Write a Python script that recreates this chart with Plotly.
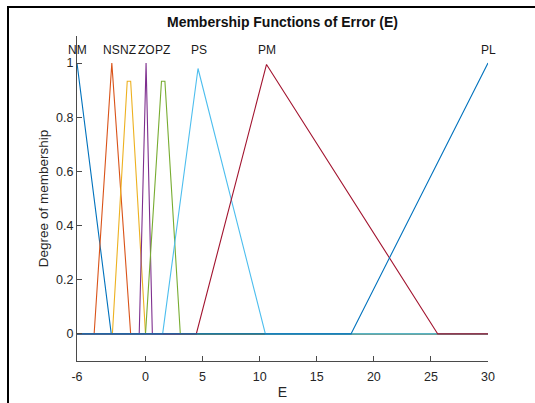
import plotly.graph_objects as go

# Membership function names and vertices
mf_names = ["NM", "NS", "NZ", "ZO", "PZ", "PS", "PM", "PL"]
nm_x = [-6, -3.0, 30]
nm_y = [1, 0, 0]
ns_x = [-6, -4.5, -2.95, -1.3, 30]
ns_y = [0, 0, 1.0, 0, 0]
nz_x = [-6, -2.9, -1.6, -1.3, 0.0, 30]
nz_y = [0, 0, 0.933, 0.933, 0, 0]
zo_x = [-6, -0.55, 0.05, 0.6, 30]
zo_y = [0, 0, 1.0, 0, 0]
pz_x = [-6, 0.0, 1.4, 1.7, 3.05, 30]
pz_y = [0, 0, 0.933, 0.933, 0, 0]
ps_x = [-6, 1.5, 4.6, 10.5, 30]
ps_y = [0, 0, 0.98, 0, 0]
pm_x = [-6, 4.45, 10.6, 25.6, 30]
pm_y = [0, 0, 0.995, 0, 0]
pl_x = [-6, 18.0, 30]
pl_y = [0, 0, 1]

label_x = [-6, -2.95, -1.55, 0.05, 1.45, 4.65, 10.65, 30]
label_y = 1.05

colors = ["#0072BD", "#D95319", "#EDB120", "#7E2F8E", "#77AC30", "#4DBEEE", "#A2142F", "#0072BD"]

xs = [nm_x, ns_x, nz_x, zo_x, pz_x, ps_x, pm_x, pl_x]
ys = [nm_y, ns_y, nz_y, zo_y, pz_y, ps_y, pm_y, pl_y]

x_ticks = [-6, 0, 5, 10, 15, 20, 25, 30]
y_ticks = [0, 0.2, 0.4, 0.6, 0.8, 1]

fig = go.Figure()
for name, x, y, c in zip(mf_names, xs, ys, colors):
    fig.add_trace(go.Scatter(x=x, y=y, mode="lines", name=name,
                             line=dict(color=c, width=1.1), showlegend=False,
                             hoverinfo="skip"))

for name, lx in zip(mf_names, label_x):
    fig.add_annotation(x=lx, y=label_y, text=name, showarrow=False,
                       xanchor="center", yanchor="middle",
                       font=dict(size=12, color="#1a1a1a", family="Liberation Sans, Arial"))

axis_col = "#4a4a4a"
text_col = "#262626"

fig.update_layout(
    width=535, height=403,
    margin=dict(l=77, r=47, t=36, b=42, autoexpand=False),
    paper_bgcolor="white", plot_bgcolor="white",
    font=dict(family="Liberation Sans, Arial", color=text_col, size=12.5),
    title=dict(text="<b>Membership Functions of Error (E)</b>", x=0.528, xanchor="center",
               y=1 - 22 / 403, yanchor="middle",
               font=dict(size=14, color="#111111", family="Liberation Sans, Arial")),
    xaxis=dict(range=[-6, 30], tickvals=x_ticks, ticktext=[str(v) for v in x_ticks],
               showgrid=False, zeroline=False, showline=True, linecolor=axis_col, linewidth=1,
               ticks="inside", ticklen=5, tickcolor=axis_col, tickwidth=1, automargin=False,
               title=dict(text="E", font=dict(size=14, color=text_col), standoff=4),
               tickfont=dict(size=12.5, color=text_col), ticklabelstandoff=4),
    yaxis=dict(range=[-0.1, 1.1], tickvals=y_ticks, ticktext=["0", "0.2", "0.4", "0.6", "0.8", "1"],
               showgrid=False, zeroline=False, showline=True, linecolor=axis_col, linewidth=1,
               ticks="inside", ticklen=5, tickcolor=axis_col, tickwidth=1, automargin=False,
               title=dict(text="Degree of membership", font=dict(size=13.5, color=text_col), standoff=4),
               tickfont=dict(size=12.5, color=text_col)),
)

# outer black frame (partly outside the image, as in the reference)
fig.add_shape(type="rect", xref="paper", yref="paper",
              x0=(8 - 77) / 411, x1=(545 - 77) / 411,
              y0=(361 - 420) / 325, y1=(361 - 7) / 325,
              line=dict(color="black", width=2), fillcolor="rgba(0,0,0,0)", layer="below")

fig.write_html("out.html")
